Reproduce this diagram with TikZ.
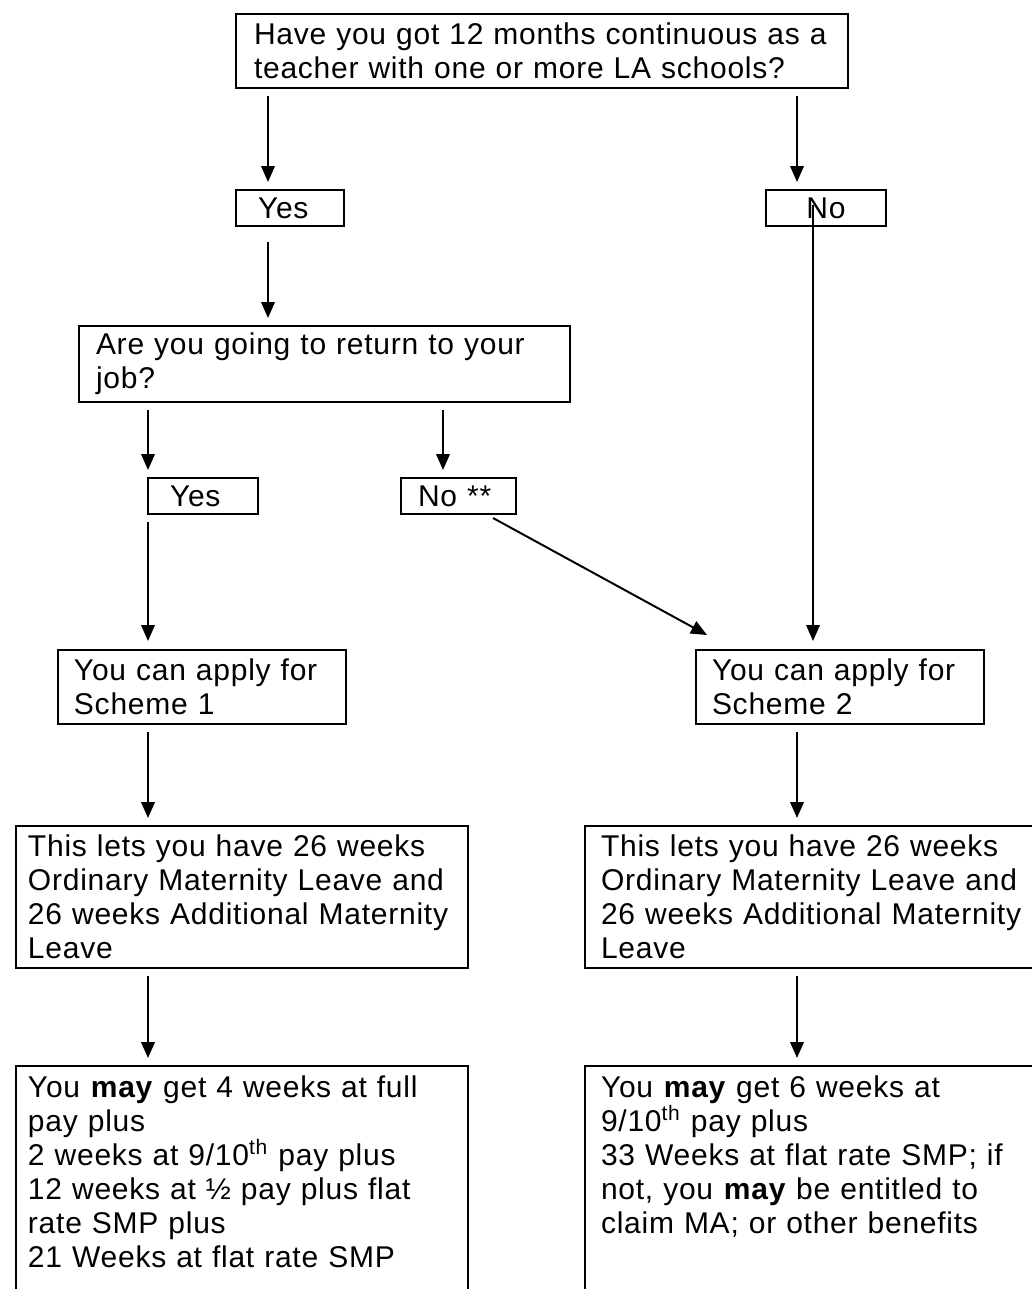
\documentclass[tikz,border=0pt]{standalone}
\usepackage{fontspec}
\setmainfont{Liberation Sans}[LetterSpace=2.5]
\usetikzlibrary{arrows.meta, calc}
\newlength\px
\setlength\px{0.4066pt}
\tikzstyle{box} = [rectangle, draw=black, line width=0.9pt, anchor=north west, align=left, inner xsep=16\px, inner ysep=0pt, outer sep=0pt, font=\fontsize{12.2}{13.8}\selectfont]
\tikzstyle{answer} = [box, minimum height=36\px]
\tikzstyle{result} = [box, inner ysep=10\px, text depth=220\px]
\tikzstyle{arrow} = [line width=0.8pt, -{Triangle[width=5.5pt, length=6.5pt]}]

\begin{document}
\begin{tikzpicture}[x=0.4066pt, y=-0.4066pt]
  \useasboundingbox (0,0) rectangle (1032,1289);
  \clip (0,0) rectangle (1032,1289);
  \node (question) [box, inner xsep=18\px, text width=576\px, minimum height=74\px] at (236,14) {Have you got 12 months continuous as a\\
    teacher with one or more LA schools?};
  \node (yes_first) [answer, inner xsep=22\px, text width=64\px] at (236,190) {Yes};
  \node (no_first) [answer, align=center, inner xsep=30\px, text width=60\px] at (766,190) {No};
  \node (return) [box, inner xsep=17\px, text width=457\px, minimum height=76\px] at (79,326) {Are you going to return to your\\
    job?};
  \node (yes_return) [answer, inner xsep=22\px, text width=66\px] at (148,478) {Yes};
  \node (no_return) [answer, inner xsep=17\px, text width=81\px] at (401,478) {No **};
  \node (scheme_one) [box, text width=256\px, minimum height=74\px] at (58,650) {You can apply for\\
    Scheme 1};
  \node (scheme_two) [box, text width=256\px, minimum height=74\px] at (696,650) {You can apply for\\
    Scheme 2};
  \node (leave_one) [box, inner xsep=12\px, text width=428\px, minimum height=142\px] at (16,826) {This lets you have 26 weeks\\
    Ordinary Maternity Leave and\\
    26 weeks Additional Maternity\\
    Leave};
  \node (leave_two) [box, text width=440\px, minimum height=142\px] at (585,826) {This lets you have 26 weeks\\
    Ordinary Maternity Leave and\\
    26 weeks Additional Maternity\\
    Leave};
  \node (pay_one) [result, inner xsep=12\px, text width=428\px] at (16,1066) {You \textbf{may} get 4 weeks at full\\
    pay plus\\
    2 weeks at 9/10\textsuperscript{th} pay plus\\
    12 weeks at ½ pay plus flat\\
    rate SMP plus\\
    21 Weeks at flat rate SMP};
  \node (pay_two) [result, text width=440\px] at (585,1066) {You \textbf{may} get 6 weeks at\\
    9/10\textsuperscript{th} pay plus\\
    33 Weeks at flat rate SMP; if\\
    not, you \textbf{may} be entitled to\\
    claim MA; or other benefits};
  \draw[arrow] ($(question.south west)+(32,8)$) -- ($(yes_first.north west)+(32,-8)$);
  \draw[arrow] ($(question.south west)+(561,8)$) -- ($(no_first.north west)+(31,-8)$);
  \draw[arrow] ($(yes_first.south west)+(32,16)$) -- ($(return.north west)+(189,-8)$);
  \draw[arrow] ($(return.south west)+(69,8)$) -- ($(yes_return.north west)+(0,-8)$);
  \draw[arrow] ($(return.south west)+(364,8)$) -- ($(no_return.north west)+(42,-8)$);
  \draw[arrow] ($(no_return.south west)+(92,4)$) -- ($(scheme_two.north west)+(11,-15)$);
  \draw[arrow] ($(no_first.north west)+(47,15)$) -- ($(scheme_two.north west)+(117,-9)$);
  \draw[arrow] ($(yes_return.south west)+(0,8)$) -- ($(scheme_one.north west)+(90,-9)$);
  \draw[arrow] ($(scheme_one.south west)+(90,8)$) -- ($(leave_one.north west)+(132,-8)$);
  \draw[arrow] ($(scheme_two.south west)+(101,8)$) -- ($(leave_two.north west)+(212,-8)$);
  \draw[arrow] ($(leave_one.south west)+(132,8)$) -- ($(pay_one.north west)+(132,-8)$);
  \draw[arrow] ($(leave_two.south west)+(212,8)$) -- ($(pay_two.north west)+(212,-8)$);
\end{tikzpicture}
\end{document}
